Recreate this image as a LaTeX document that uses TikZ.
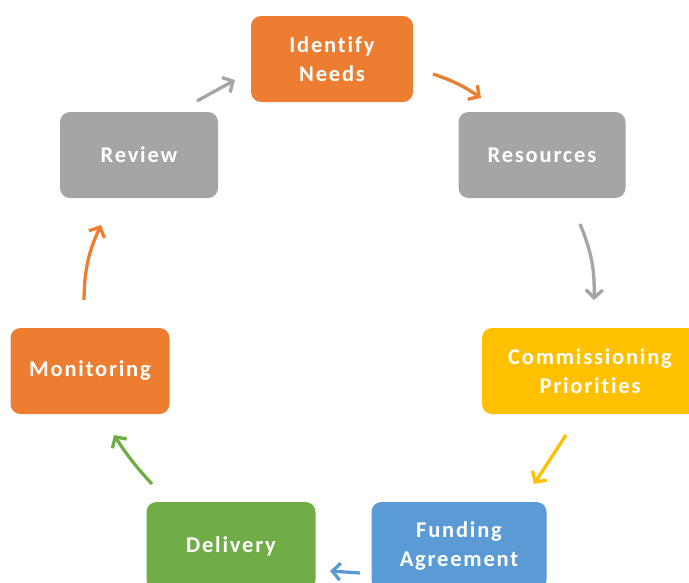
\documentclass[tikz,border=0pt]{standalone}
\usepackage{fontspec}
\setmainfont[Ligatures=NoCommon, LetterSpace=8]{Carlito}
\usepackage{tikz}
\usetikzlibrary{arrows.meta,positioning}

\definecolor{cOrange}{HTML}{ED7D31}
\definecolor{cGray}{HTML}{A5A5A5}
\definecolor{cYellow}{HTML}{FFC000}
\definecolor{cBlue}{HTML}{5B9BD5}
\definecolor{cGreen}{HTML}{70AD47}

\begin{document}
\begin{tikzpicture}[
    x=1pt, y=-1pt,
    stage/.style={rectangle, rounded corners=10pt,
                minimum width=162pt, minimum height=86pt,
                align=center, text=white, inner sep=0pt,
                font=\fontsize{22.5}{29}\selectfont\bfseries},
    cyc/.style={line width=3.3pt, -{Straight Barb[length=8pt, width=17pt, line width=3.3pt]}}
]
\useasboundingbox (0,0) rectangle (689,582);

\node[stage, fill=cOrange] (needs) at (332,59) {Identify\\Needs};
\node[stage, fill=cGray, minimum width=167pt] (resources) at (542,155) {Resources};
\node[stage, fill=cYellow, minimum width=216pt] (commissioning) at (590,371) {Commissioning\\Priorities};
\node[stage, fill=cBlue, minimum width=175pt, minimum height=88pt] (funding) at (459,546) {Funding\\Agreement};
\node[stage, fill=cGreen, minimum width=169pt, minimum height=88pt] (delivery) at (231,546) {Delivery};
\node[stage, fill=cOrange, minimum width=159pt] (monitoring) at (90,371) {Monitoring};
\node[stage, fill=cGray, minimum width=158pt] (review) at (139,155) {Review};

\draw[cyc, cOrange] (433,74) to[bend left=8] (481,98);
\draw[cyc, cGray] (580,224) to[bend left=12] (594,300);
\draw[cyc, cYellow] (566,435) -- (534,484);
\draw[cyc, cBlue] (360,573) -- (330,571);
\draw[cyc, cGreen] (152,484) to[bend left=5] (114,435);
\draw[cyc, cOrange] (84,300) to[bend left=12] (101,225);
\draw[cyc, cGray] (197,101) -- (235,80);
\end{tikzpicture}
\end{document}
